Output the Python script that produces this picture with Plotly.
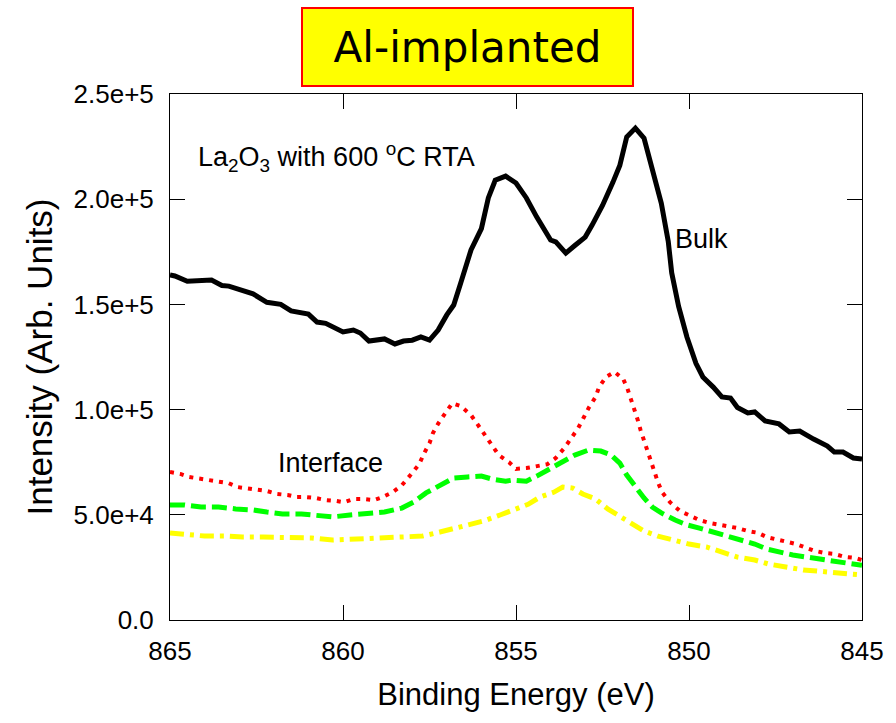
import plotly.graph_objects as go

# ---------------- data ----------------
bulk_e = [865.0, 864.86, 864.5, 863.8, 863.5, 863.3, 862.6, 862.2, 861.8, 861.5, 861.0, 860.75, 860.5,
          860.0, 859.7, 859.5, 859.25, 858.8, 858.5, 858.25, 858.0, 857.75, 857.5, 857.25, 857.0, 856.8,
          856.6, 856.3, 856.0, 855.8, 855.6, 855.3, 855.0, 854.7, 854.4, 854.0, 853.85, 853.56, 853.3,
          853.0, 852.8, 852.5, 852.2, 852.0, 851.8, 851.55, 851.3, 851.06, 850.8, 850.6, 850.5, 850.3,
          850.06, 849.8, 849.6, 849.3, 849.05, 848.8, 848.6, 848.3, 848.1, 847.8, 847.4, 847.1, 846.8,
          846.4, 846.0, 845.8, 845.55, 845.25, 845.0]
bulk_i = [164000, 163500, 161000, 161600, 159000, 158700, 155000, 151000, 150000, 146900, 145400, 141600,
          141000, 136900, 137800, 136400, 132600, 133600, 131200, 132600, 133000, 134500, 133000, 137800,
          145000, 149700, 160000, 175900, 186000, 200600, 209000, 211000, 207700, 200600, 191500, 180600,
          179700, 174400, 178000, 182000, 187700, 197000, 208000, 216000, 229600, 233800, 229000, 215000,
          198000, 180000, 165000, 149000, 134500, 122000, 115500, 110700, 106000, 105500, 101000, 98400,
          98900, 94600, 93200, 89400, 89800, 86000, 82700, 79800, 79800, 77000, 76500]

red_e = [865.0, 864.7, 864.45, 864.1, 863.6, 863.3, 863.05, 862.8, 862.5, 862.2, 861.9, 861.6, 861.35,
         861.1, 860.8, 860.5, 860.2, 859.97, 859.7, 859.4, 859.1, 858.85, 858.56, 858.3, 858.05, 857.8,
         857.65, 857.5, 857.4, 857.24, 857.04, 856.84, 856.6, 856.3, 856.1, 855.9, 855.7, 855.5, 855.2,
         855.0, 854.7, 854.4, 854.1, 853.85, 853.6, 853.4, 853.2, 853.05, 852.9, 852.7, 852.6, 852.4,
         852.15, 851.9, 851.78, 851.68, 851.57, 851.48, 851.4, 851.3, 851.2, 851.1, 851.02, 850.9, 850.78,
         850.55, 850.26, 850.0, 849.7, 849.4, 849.1, 848.85, 848.6, 848.3, 848.0, 847.75, 847.5, 847.2,
         846.9, 846.6, 846.35, 846.06, 845.8, 845.5, 845.2, 845.0]
red_i = [70300, 69400, 68000, 67000, 66000, 65000, 63200, 62700, 61800, 61300, 59900, 59400, 58500, 58500,
         58000, 57000, 56600, 56000, 57500, 57500, 57000, 58500, 60800, 64000, 68900, 74000, 79400, 84000,
         88900, 93600, 98400, 103000, 101700, 97400, 92700, 87900, 83200, 78400, 75000, 71800, 72200, 73200,
         74000, 77000, 81800, 86500, 91300, 96000, 100800, 106000, 110700, 115500, 117900, 114500, 110000,
         105000, 99800, 95000, 90300, 85500, 80300, 75600, 70800, 65600, 60800, 56000, 51800, 49900, 47500,
         46100, 45200, 44700, 43700, 42300, 41400, 39400, 38500, 37000, 36100, 34200, 32800, 31800, 31400,
         30000, 29500, 28500]

green_e = [865.0, 864.6, 864.1, 863.6, 863.1, 862.6, 862.2, 861.75, 861.2, 860.75, 860.3, 859.8, 859.25,
           858.8, 858.3, 857.96, 857.6, 857.2, 856.8, 856.4, 856.0, 855.7, 855.3, 855.1, 854.7, 854.4,
           854.1, 853.7, 853.3, 852.9, 852.55, 852.25, 852.0, 851.8, 851.55, 851.3, 851.06, 850.8, 850.4,
           850.06, 849.7, 849.3, 848.9, 848.5, 848.1, 847.75, 847.4, 847.0, 846.6, 846.2, 845.8, 845.46, 845.0]
green_i = [54700, 54700, 53700, 53700, 52800, 52300, 51300, 50400, 50400, 49900, 49000, 49900, 50900,
           51300, 53200, 56000, 60400, 64000, 67500, 68000, 68400, 67000, 66000, 66500, 66000, 68400,
           71300, 75000, 78400, 80800, 80300, 78400, 74600, 68900, 63200, 58000, 53700, 50900, 47500,
           45200, 43700, 41800, 39400, 37500, 36100, 33700, 32300, 30900, 29900, 29000, 28000, 27000, 26000]

yellow_e = [865.0, 864.6, 864.0, 863.4, 862.9, 862.3, 861.6, 860.9, 860.3, 859.6, 859.0, 858.25, 857.7,
            857.2, 856.75, 856.3, 855.95, 855.46, 855.0, 854.65, 854.3, 853.9, 853.65, 853.36, 853.07,
            852.7, 852.35, 852.07, 851.7, 851.3, 850.9, 850.35, 850.0, 849.5, 849.0, 848.6, 848.1, 847.7,
            847.2, 846.7, 846.3, 845.8, 845.4, 845.0]
yellow_i = [41400, 40900, 39900, 39900, 39400, 39400, 39000, 39000, 38000, 38500, 39000, 39400, 39900,
            41800, 43700, 45200, 47000, 49900, 52800, 55000, 58500, 60800, 63200, 62700, 59900, 57500,
            52800, 49900, 46100, 42300, 39900, 37500, 36100, 34700, 32300, 29900, 28500, 26600, 25200,
            23800, 23300, 22300, 21900, 21400]

x_ticks = [865, 860, 855, 850, 845]
x_tick_text = ["865", "860", "855", "850", "845"]
y_ticks = [0, 50000, 100000, 150000, 200000, 250000]
y_tick_text = ["0.0", "5.0e+4", "1.0e+5", "1.5e+5", "2.0e+5", "2.5e+5"]

FONT = "Liberation Sans, Arial, sans-serif"

fig = go.Figure()
fig.add_trace(go.Scatter(x=yellow_e, y=yellow_i, mode="lines",
                         line=dict(color="#FFFF00", width=5, dash="14px,6px,4px,6px")))
fig.add_trace(go.Scatter(x=green_e, y=green_i, mode="lines",
                         line=dict(color="#00FF00", width=5, dash="15px,6px")))
fig.add_trace(go.Scatter(x=red_e, y=red_i, mode="lines",
                         line=dict(color="#FF0000", width=4, dash="4px,6px")))
fig.add_trace(go.Scatter(x=bulk_e, y=bulk_i, mode="lines",
                         line=dict(color="#000000", width=5)))

fig.update_layout(
    width=896, height=723,
    margin=dict(l=170, r=30, t=94, b=103),
    paper_bgcolor="white", plot_bgcolor="white",
    showlegend=False,
    font=dict(family=FONT, color="black"),
)
fig.update_xaxes(
    range=[865, 845], tickvals=x_ticks, ticktext=x_tick_text,
    showgrid=False, zeroline=False, showline=True, linecolor="black", linewidth=1,
    mirror="ticks", ticks="inside", ticklen=15, tickcolor="black", tickwidth=1,
    tickfont=dict(size=26, family=FONT), ticklabelstandoff=8,
    title=dict(text="Binding Energy (eV)", font=dict(size=31, family=FONT), standoff=18),
)
fig.update_yaxes(
    range=[0, 250000], tickvals=y_ticks, ticktext=y_tick_text,
    showgrid=False, zeroline=False, showline=True, linecolor="black", linewidth=1,
    mirror="ticks", ticks="inside", ticklen=15, tickcolor="black", tickwidth=1,
    tickfont=dict(size=26, family=FONT), ticklabelstandoff=10,
    title=dict(text="Intensity (Arb. Units)", font=dict(size=35, family=FONT), standoff=10),
)

fig.add_annotation(x=0.4303, y=1.0894, xref="paper", yref="paper", xanchor="center", yanchor="middle",
                   text="Al-implanted", showarrow=False,
                   font=dict(size=42, family="DejaVu Sans, Verdana, sans-serif", color="black"),
                   bgcolor="#FFFF00", bordercolor="#FF0000", borderwidth=2, borderpad=0,
                   width=329, height=76)
fig.add_annotation(x=864.25, y=220000, xanchor="left", yanchor="middle", showarrow=False,
                   text="La<sub>2</sub>O<sub>3</sub> with 600 <sup>o</sup>C RTA",
                   font=dict(size=27, family=FONT, color="black"))
fig.add_annotation(x=850.45, y=181000, xanchor="left", yanchor="middle", showarrow=False,
                   text="Bulk", font=dict(size=27, family=FONT, color="black"))
fig.add_annotation(x=861.95, y=74600, xanchor="left", yanchor="middle", showarrow=False,
                   text="Interface", font=dict(size=27, family=FONT, color="black"))

fig.write_html("out.html")
